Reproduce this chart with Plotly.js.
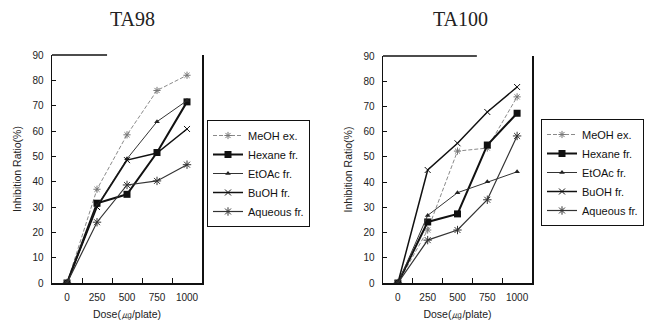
<!DOCTYPE html>
<html>
<head>
<meta charset="utf-8">
<script src="https://cdn.plot.ly/plotly-3.0.1.min.js"></script>
<style>
  html, body { margin: 0; padding: 0; background: #fff; }
  #chart { width: 646px; height: 324px; }
</style>
</head>
<body>
<div id="chart"></div>
<script>
// ---- data ----
const doses = ['0', '250', '500', '750', '1000'];
const seriesNames = ['MeOH ex.', 'Hexane fr.', 'EtOAc fr.', 'BuOH fr.', 'Aqueous fr.'];

const ta98_meoh    = [0, 37.0, 58.5, 76.0, 82.0];
const ta98_hexane  = [0, 31.5, 35.0, 51.5, 71.5];
const ta98_etoac   = [0, 30.5, 49.0, 63.7, 72.0];
const ta98_buoh    = [0, 30.0, 48.5, 51.3, 60.8];
const ta98_aqueous = [0, 24.0, 38.7, 40.3, 46.7];

const ta100_meoh    = [0, 21.0, 52.3, 53.5, 73.8];
const ta100_hexane  = [0, 24.2, 27.4, 54.7, 67.3];
const ta100_etoac   = [0, 26.8, 35.8, 40.1, 44.1];
const ta100_buoh    = [0, 44.8, 55.4, 67.8, 77.7];
const ta100_aqueous = [0, 17.0, 21.0, 33.0, 58.3];

const panelTitles = ['TA98', 'TA100'];
const xTitle = 'Dose(㎍/plate)';
const yTitle = 'Inhibition Ratio(%)';

// ---- styles ----
const styles = [
  {line: {color: '#8a8a8a', width: 1, dash: '4px,2px'}, marker: {symbol: 'asterisk-open', size: 6, color: '#777', line: {color: '#777', width: 1}}},
  {line: {color: '#111', width: 2}, marker: {symbol: 'square', size: 7, color: '#111'}},
  {line: {color: '#333', width: 1}, marker: {symbol: 'triangle-up', size: 5, color: '#222'}},
  {line: {color: '#111', width: 1.5}, marker: {symbol: 'x-thin-open', size: 6, color: '#111', line: {color: '#111', width: 1}}},
  {line: {color: '#333', width: 1.2}, marker: {symbol: 'asterisk-open', size: 7, color: '#333', line: {color: '#333', width: 1}}}
];

const panels = [
  [ta98_meoh, ta98_hexane, ta98_etoac, ta98_buoh, ta98_aqueous],
  [ta100_meoh, ta100_hexane, ta100_etoac, ta100_buoh, ta100_aqueous]
];

const traces = [];
panels.forEach((series, p) => {
  series.forEach((vals, i) => {
    traces.push({
      type: 'scatter', mode: 'lines+markers',
      x: doses, y: vals, name: seriesNames[i],
      xaxis: p === 0 ? 'x' : 'x2', yaxis: p === 0 ? 'y' : 'y2',
      legend: p === 0 ? 'legend' : 'legend2',
      line: styles[i].line, marker: styles[i].marker,
      hoverinfo: 'skip'
    });
  });
});

const W = 646, H = 324;
const tickFont = {family: 'Liberation Sans, Arial, sans-serif', size: 10, color: '#222'};

function xAxis(d0, d1, anchor) {
  return {
    type: 'category', domain: [d0 / W, d1 / W], anchor: anchor,
    range: [-0.5, 4.5], showline: true, linecolor: '#111', linewidth: 1.5,
    ticks: 'inside', tickson: 'boundaries', ticklen: 5, tickcolor: '#111', tickwidth: 1,
    tickangle: 0, ticklabelstandoff: 4,
    showgrid: false, zeroline: false, tickfont: tickFont, automargin: false,
    title: {text: xTitle, font: {family: tickFont.family, size: 10.5, color: '#222'}, standoff: 9}
  };
}
function yAxis(top, anchor) {
  return {
    domain: [(H - 283) / H, (H - top) / H], anchor: anchor,
    range: [0, 90], dtick: 10, showline: true, mirror: true, linecolor: '#111', linewidth: 1.5,
    ticks: 'inside', ticklen: 4, tickcolor: '#111', tickwidth: 1, ticklabelstandoff: 5,
    showgrid: false, zeroline: false, tickfont: tickFont, automargin: false,
    title: {text: yTitle, font: {family: tickFont.family, size: 10.5, color: '#222'}, standoff: 8}
  };
}

function legendBox(x, y) {
  return {
    x: x / W, y: 1 - y / H, xanchor: 'left', yanchor: 'top',
    bordercolor: '#111', borderwidth: 1, bgcolor: '#fff',
    font: {family: 'Liberation Sans, Arial, sans-serif', size: 11, color: '#111'}
  };
}

const layout = {
  width: W, height: H,
  margin: {l: 0, r: 0, t: 0, b: 0},
  paper_bgcolor: '#fff', plot_bgcolor: '#fff',
  showlegend: true,
  xaxis: xAxis(52, 202, 'y'),
  yaxis: yAxis(55, 'x'),
  xaxis2: xAxis(383, 532, 'y2'),
  yaxis2: yAxis(56, 'x2'),
  legend: legendBox(207, 120),
  legend2: legendBox(541, 119),
  annotations: [
    {text: panelTitles[0], x: 132 / W, y: 1 - 19 / H, xref: 'paper', yref: 'paper', showarrow: false,
     xanchor: 'center', yanchor: 'middle', font: {family: 'Liberation Serif, Times New Roman, serif', size: 20, color: '#222'}},
    {text: panelTitles[1], x: 460 / W, y: 1 - 19 / H, xref: 'paper', yref: 'paper', showarrow: false,
     xanchor: 'center', yanchor: 'middle', font: {family: 'Liberation Serif, Times New Roman, serif', size: 20, color: '#222'}}
  ],
  shapes: [
    {type: 'line', xref: 'x domain', yref: 'y domain', x0: 0, x1: 0.367, y0: 1, y1: 1, line: {color: '#111', width: 1.5}},
    {type: 'line', xref: 'x2 domain', yref: 'y2 domain', x0: 0, x1: 0.63, y0: 1, y1: 1, line: {color: '#111', width: 1.5}}
  ]
};

Plotly.newPlot('chart', traces, layout, {displayModeBar: false, staticPlot: true});
</script>
</body>
</html>
